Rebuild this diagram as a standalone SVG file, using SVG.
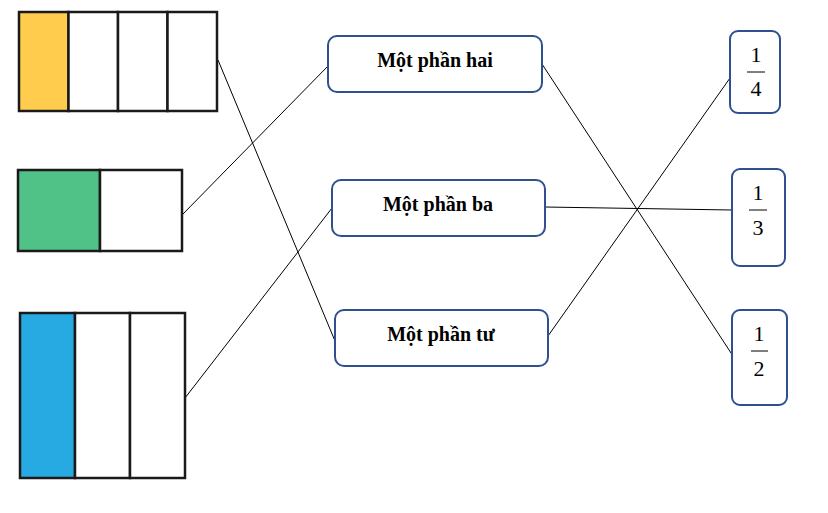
<svg xmlns="http://www.w3.org/2000/svg" width="828" height="513" viewBox="0 0 828 513">
<style>
.c{stroke:#1a1a1a;stroke-width:2.5}
.b{fill:#fff;stroke:#2f4f8f;stroke-width:2}
.t{font-family:"Liberation Serif",serif;font-weight:bold;font-size:20px;text-anchor:middle}
.f{font-family:"Liberation Serif",serif;font-size:22px;text-anchor:middle}
.l{stroke:#000;stroke-width:1;fill:none}
</style>
<rect width="828" height="513" fill="#fff"/>
<g id="connectors" class="l">
<line x1="218" y1="60" x2="335" y2="341"/>
<line x1="182" y1="215" x2="328" y2="66"/>
<line x1="185" y1="398" x2="332" y2="208"/>
<line x1="542" y1="64" x2="733" y2="356"/>
<line x1="545" y1="207" x2="732" y2="210"/>
<line x1="548" y1="336" x2="730" y2="78"/>
</g>
<g id="bar4">
<rect x="19" y="12" width="49.5" height="99" fill="#ffcc4d" class="c"/>
<rect x="68.5" y="12" width="49.5" height="99" fill="#fff" class="c"/>
<rect x="118" y="12" width="49.5" height="99" fill="#fff" class="c"/>
<rect x="167.5" y="12" width="49.5" height="99" fill="#fff" class="c"/>
</g>
<g id="bar2">
<rect x="18" y="170" width="82" height="81" fill="#50c187" class="c"/>
<rect x="100" y="170" width="82" height="81" fill="#fff" class="c"/>
</g>
<g id="bar3">
<rect x="20" y="313" width="55" height="165" fill="#27a9e1" class="c"/>
<rect x="75" y="313" width="55" height="165" fill="#fff" class="c"/>
<rect x="130" y="313" width="55" height="165" fill="#fff" class="c"/>
</g>
<g id="half"><rect x="328" y="36" width="214" height="56" rx="9" class="b"/><text x="435" y="67" class="t">Một phần hai</text></g>
<g id="third"><rect x="332" y="180" width="213" height="56" rx="9" class="b"/><text x="438" y="211" class="t">Một phần ba</text></g>
<g id="quarter"><rect x="335" y="310" width="213" height="56" rx="9" class="b"/><text x="441" y="341" class="t">Một phần tư</text></g>
<g id="f14"><rect x="730" y="31" width="50" height="82" rx="8" class="b"/><text x="756" y="62" class="f">1</text><line x1="747" y1="72" x2="765" y2="72" class="l"/><text x="756" y="96" class="f">4</text></g>
<g id="f13"><rect x="732" y="169" width="53" height="97" rx="8" class="b"/><text x="758" y="200" class="f">1</text><line x1="749" y1="210" x2="767" y2="210" class="l"/><text x="758" y="235" class="f">3</text></g>
<g id="f12"><rect x="732" y="310" width="55" height="95" rx="8" class="b"/><text x="759" y="341" class="f">1</text><line x1="751" y1="351" x2="768" y2="351" class="l"/><text x="759" y="376" class="f">2</text></g>
</svg>
